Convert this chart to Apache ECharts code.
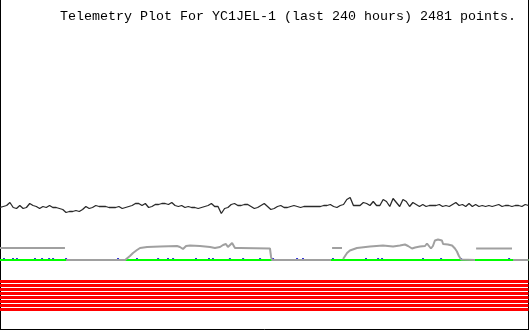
<!DOCTYPE html>
<html>
<head>
<meta charset="utf-8">
<script src="https://cdn.jsdelivr.net/npm/echarts@6/dist/echarts.min.js"></script>
<style>
  html, body { margin: 0; padding: 0; background: #fff; }
  #chart { width: 530px; height: 330px; }
</style>
</head>
<body>
<div id="chart"></div>
<script>
// ---- data (x in hours over the last 240 h; y in arbitrary telemetry units) ----
var titleText = 'Telemetry Plot For YC1JEL-1 (last 240 hours) 2481 points.';
var hoursMin = 0, hoursMax = 240;

// dark trace, sampled every 1.5 h
var blackStep = 1.5;
var blackValues = [
  12.2,12.3,12.4,12.7,12.2,12.1,12.4,12.1,12.2,12.6,
  12.4,12.3,12.1,12.3,12.2,12.4,12.2,12.2,12.1,12.0,
  11.7,11.8,11.8,11.9,11.8,12.0,12.3,12.1,12.2,12.4,
  12.3,12.3,12.3,12.2,12.2,12.2,12.3,12.1,12.2,12.3,
  12.4,12.6,12.6,12.4,12.6,12.2,12.3,12.5,12.5,12.6,
  12.6,12.5,12.7,12.4,12.3,12.4,12.2,12.3,12.2,12.2,
  12.1,12.2,12.3,12.4,12.6,12.3,12.3,11.6,12.1,12.2,
  12.5,12.6,12.4,12.4,12.5,12.5,12.3,12.1,12.2,12.4,
  12.6,12.3,12.0,12.1,12.3,12.4,12.2,12.2,12.3,12.4,
  12.3,12.2,12.3,12.3,12.3,12.3,12.3,12.3,12.4,12.4,
  12.5,12.3,12.2,12.4,12.5,13.0,13.2,12.4,12.4,12.4,
  12.7,12.6,12.4,12.8,12.4,12.4,13.0,12.8,12.3,13.1,
  12.7,12.3,13.0,12.8,12.3,12.7,12.5,12.3,12.5,12.3,
  12.4,12.4,12.4,12.5,12.3,12.4,12.3,12.5,12.7,12.4,
  12.5,12.3,12.6,12.3,12.5,12.3,12.4,12.3,12.4,12.3,
  12.4,12.5,12.3,12.4,12.4,12.3,12.4,12.4,12.3,12.5,
  12.4
];

// grey trace (null = gap)
var grayHours = [
  0,5.5,5.9,6.3,13.2,13.6,14.0,20.5,20.9,21.3,29.5,29.7,
  30.0,56.8,59.0,60.4,62.2,63.6,66.8,72.7,80.4,81.7,83.1,84.5,86.3,90.8,95.4,97.6,99.9,
  101.3,102.6,103.5,104.4,105.4,106.7,109.0,122.6,123.1,123.5,150.3,150.5,
  150.8,155.3,155.5,
  155.8,157.6,158.9,162.1,168.0,173.9,178.5,181.6,183.9,185.3,187.1,187.5,188.5,190.7,
  193.0,193.9,194.8,195.7,196.6,197.5,198.9,200.7,201.2,202.1,203.4,205.3,206.6,207.5,
  208.4,209.4,209.8,215.7,215.9,
  216.2,232.5,232.7,
  233.0,240
];
var grayValues = [
  8.15,8.15,8.05,8.15,8.15,8.05,8.15,8.15,8.05,8.15,8.15,null,
  6.95,6.95,7.35,7.65,7.95,8.15,8.25,8.3,8.35,8.25,8.05,8.35,8.4,8.35,8.25,8.15,8.25,
  8.45,8.55,8.25,8.35,8.65,8.15,8.15,8.1,7.25,6.95,6.95,null,
  8.15,8.15,null,
  7.05,7.65,7.9,8.15,8.3,8.4,8.3,8.4,8.5,8.35,8.1,8.0,8.2,8.3,
  8.35,8.6,8.35,8.1,8.35,8.9,9.0,8.9,8.55,8.7,8.5,8.4,8.1,7.8,
  7.35,7.0,6.95,6.95,null,
  8.1,8.1,null,
  6.95,6.95
];

// green trace
var greenHours = [0, 240];
var greenValues = [6.95, 6.95];

// blue blips just above the green trace
var blueHours = [1.8,5.9,7.7,15.9,19.1,22.3,24.1,30.0,53.6,62.2,71.8,76.3,78.6,89.0,94.9,
  96.7,104.4,110.4,118.1,124.0,134.9,137.6,151.2,166.2,171.7,173.5,192.1,200.3,209.4,231.2];
var blueValue = 7.1;

// red status traces (constant)
var redLevels = [4.8, 4.4, 4.0, 3.6, 3.2, 2.8, 2.4, 2.0];

// ---- build chart ----
function pairs(xs, ys) {
  return xs.map(function (x, i) { return [x, ys[i] === null ? '-' : ys[i]]; });
}
var blackData = blackValues.map(function (v, i) { return [i * blackStep, v]; });

var series = [];
redLevels.forEach(function (lv) {
  series.push({
    type: 'line', data: [[hoursMin, lv], [hoursMax, lv]], symbol: 'none', silent: true,
    lineStyle: { color: '#ff0000', width: 3 }, z: 2
  });
});
series.push({
  type: 'scatter', data: blueHours.map(function (h) { return [h, blueValue]; }),
  symbol: 'rect', symbolSize: [2, 1], itemStyle: { color: '#0000cc' }, z: 2, silent: true
});
series.push({
  type: 'line', data: pairs(greenHours, greenValues), symbol: 'none', silent: true,
  lineStyle: { color: '#00ff00', width: 2 }, z: 3
});
series.push({
  type: 'line', data: pairs(grayHours, grayValues), symbol: 'none', silent: true, connectNulls: false,
  lineStyle: { color: '#a0a0a0', width: 2 }, z: 4
});
series.push({
  type: 'line', data: blackData, symbol: 'none', silent: true,
  lineStyle: { color: '#2a2a2a', width: 1.3 }, z: 5
});

var chart = echarts.init(document.getElementById('chart'), null, { renderer: 'canvas' });
chart.setOption({
  animation: false,
  backgroundColor: '#ffffff',
  title: {
    text: titleText, left: 60, top: 10, padding: 0,
    textStyle: { fontFamily: 'Liberation Mono', fontSize: 13.33, fontWeight: 'normal', color: '#000' }
  },
  grid: { left: 0, right: 1.5, top: 0, bottom: 0.5 },
  xAxis: {
    type: 'value', min: hoursMin, max: hoursMax,
    axisLine: { show: true, onZero: false, lineStyle: { color: '#000', width: 1 } },
    axisTick: { show: false }, axisLabel: { show: false }, splitLine: { show: false }
  },
  yAxis: [
    {
      type: 'value', min: 0, max: 32.95, position: 'left',
      axisLine: { show: true, onZero: false, lineStyle: { color: '#000', width: 1 } },
      axisTick: { show: false }, axisLabel: { show: false }, splitLine: { show: false }
    },
    {
      type: 'value', min: 0, max: 32.95, position: 'right',
      axisLine: { show: true, onZero: false, lineStyle: { color: '#000', width: 1 } },
      axisTick: { show: false }, axisLabel: { show: false }, splitLine: { show: false }
    }
  ],
  series: series
});
</script>
</body>
</html>
